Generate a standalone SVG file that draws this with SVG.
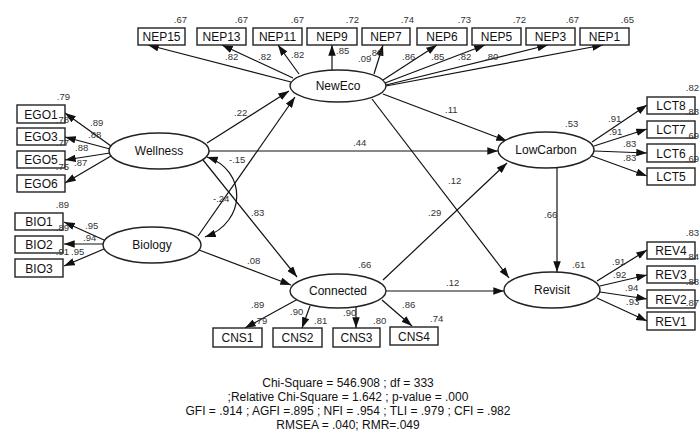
<svg xmlns="http://www.w3.org/2000/svg" width="700" height="435" viewBox="0 0 700 435">
<style>
.box{fill:#fff;stroke:#222;stroke-width:1.4}
.ell{fill:#fff;stroke:#222;stroke-width:1.4}
.lbl{font-family:"Liberation Sans",Arial,sans-serif;font-size:12px;fill:#111;text-anchor:middle}
.num{font-family:"Liberation Sans",Arial,sans-serif;font-size:9.5px;fill:#333}
.e{text-anchor:end}
.ln{stroke:#111;stroke-width:1.2;fill:none;marker-end:url(#ah)}
.fit{font-family:"Liberation Sans",Arial,sans-serif;font-size:12px;fill:#111;text-anchor:middle}
</style>
<defs>
<marker id="ah" viewBox="0 0 10 7" refX="10" refY="3.5" markerWidth="11" markerHeight="7.5" markerUnits="userSpaceOnUse" orient="auto-start-reverse">
<path d="M0,0 L10,3.5 L0,7 z" fill="#111"/>
</marker>
</defs>
<rect width="700" height="435" fill="#fff"/>

<g id="connectors">
<path class="ln" d="M291,82 L148,45"/>
<path class="ln" d="M293,78 L222,45"/>
<path class="ln" d="M299,74 L278,45"/>
<path class="ln" d="M332,70 L332,45"/>
<path class="ln" d="M374,74 L383,45"/>
<path class="ln" d="M383,80 L437,45"/>
<path class="ln" d="M385,83 L485,45"/>
<path class="ln" d="M386,85 L548,45"/>
<path class="ln" d="M386,86 L603,45"/>
<path class="ln" d="M111,146 L65,113"/>
<path class="ln" d="M110,149 L65,137"/>
<path class="ln" d="M110,153 L65,160"/>
<path class="ln" d="M111,156 L65,183"/>
<path class="ln" d="M104,240 L64,222"/>
<path class="ln" d="M103,244 L64,244"/>
<path class="ln" d="M104,249 L64,266"/>
<path class="ln" d="M207,143 L289,91"/>
<path class="ln" d="M198,236 L295,97"/>
<path class="ln" d="M203,160 L297,277"/>
<path class="ln" d="M209,151 L498,151"/>
<path class="ln" d="M199,250 L291,285"/>
<path class="ln" d="M383,94 L507,141"/>
<path class="ln" d="M372,99 L509,278"/>
<path class="ln" d="M383,280 L507,163"/>
<path class="ln" d="M386,291 L504,291"/>
<path class="ln" d="M557,168 L557,272"/>
<path class="ln" style="marker-start:url(#ah)" d="M207,157 C247,170 247,222 205,237"/>
<path class="ln" d="M592,142 L647,105"/>
<path class="ln" d="M594,146 L647,129"/>
<path class="ln" d="M594,151 L647,153"/>
<path class="ln" d="M592,156 L647,176"/>
<path class="ln" d="M597,281 L647,250"/>
<path class="ln" d="M600,286 L647,275"/>
<path class="ln" d="M600,292 L647,299"/>
<path class="ln" d="M597,298 L647,321"/>
<path class="ln" d="M298,299 L245,328"/>
<path class="ln" d="M310,306 L302,328"/>
<path class="ln" d="M356,307 L356,328"/>
<path class="ln" d="M382,300 L412,326"/>
</g>

<g id="NEP15"><rect class="box" x="138" y="28" width="47" height="17"/><text class="lbl" x="161.5" y="41">NEP15</text><text class="num e" x="187" y="23">.67</text></g>
<g id="NEP13"><rect class="box" x="197" y="28" width="49" height="17"/><text class="lbl" x="221.5" y="41">NEP13</text><text class="num e" x="248" y="23">.67</text></g>
<g id="NEP11"><rect class="box" x="253" y="28" width="49" height="17"/><text class="lbl" x="277.5" y="41">NEP11</text><text class="num e" x="304" y="23">.67</text></g>
<g id="NEP9"><rect class="box" x="307" y="28" width="50" height="17"/><text class="lbl" x="332" y="41">NEP9</text><text class="num e" x="359" y="23">.72</text></g>
<g id="NEP7"><rect class="box" x="362" y="28" width="48" height="17"/><text class="lbl" x="386" y="41">NEP7</text><text class="num e" x="414" y="23">.74</text></g>
<g id="NEP6"><rect class="box" x="417" y="28" width="50" height="17"/><text class="lbl" x="442" y="41">NEP6</text><text class="num e" x="471" y="23">.73</text></g>
<g id="NEP5"><rect class="box" x="472" y="28" width="49" height="17"/><text class="lbl" x="496.5" y="41">NEP5</text><text class="num e" x="526" y="23">.72</text></g>
<g id="NEP3"><rect class="box" x="526" y="28" width="49" height="17"/><text class="lbl" x="550.5" y="41">NEP3</text><text class="num e" x="579" y="23">.67</text></g>
<g id="NEP1"><rect class="box" x="580" y="28" width="49" height="17"/><text class="lbl" x="604.5" y="41">NEP1</text><text class="num e" x="634" y="23">.65</text></g>

<g id="EGO1"><rect class="box" x="17" y="105" width="48" height="18"/><text class="lbl" x="41" y="118.5">EGO1</text><text class="num e" x="70" y="100">.79</text></g>
<g id="EGO3"><rect class="box" x="17" y="128" width="48" height="17"/><text class="lbl" x="41" y="141">EGO3</text><text class="num e" x="69" y="123">.78</text></g>
<g id="EGO5"><rect class="box" x="17" y="151" width="48" height="17"/><text class="lbl" x="41" y="164">EGO5</text><text class="num e" x="69" y="146">.77</text></g>
<g id="EGO6"><rect class="box" x="17" y="175" width="48" height="17"/><text class="lbl" x="41" y="188">EGO6</text><text class="num e" x="69" y="170">.75</text></g>

<g id="BIO1"><rect class="box" x="15" y="213" width="48" height="17"/><text class="lbl" x="39" y="226">BIO1</text><text class="num e" x="69" y="208">.89</text></g>
<g id="BIO2"><rect class="box" x="15" y="236" width="48" height="17"/><text class="lbl" x="39" y="249">BIO2</text><text class="num e" x="69" y="231">.89</text></g>
<g id="BIO3"><rect class="box" x="15" y="259" width="48" height="18"/><text class="lbl" x="39" y="272.5">BIO3</text><text class="num e" x="69" y="255">.91</text></g>

<g id="LCT8"><rect class="box" x="647" y="97" width="48" height="17"/><text class="lbl" x="671" y="110">LCT8</text><text class="num e" x="699" y="91">.82</text></g>
<g id="LCT7"><rect class="box" x="647" y="121" width="48" height="17"/><text class="lbl" x="671" y="134">LCT7</text><text class="num e" x="699" y="115">.83</text></g>
<g id="LCT6"><rect class="box" x="647" y="144" width="48" height="18"/><text class="lbl" x="671" y="157.5">LCT6</text><text class="num e" x="699" y="139">.69</text></g>
<g id="LCT5"><rect class="box" x="647" y="168" width="48" height="17"/><text class="lbl" x="671" y="181">LCT5</text><text class="num e" x="699" y="162">.69</text></g>

<g id="REV4"><rect class="box" x="647" y="242" width="48" height="17"/><text class="lbl" x="671" y="255">REV4</text><text class="num e" x="699" y="236">.83</text></g>
<g id="REV3"><rect class="box" x="647" y="266" width="48" height="17"/><text class="lbl" x="671" y="279">REV3</text><text class="num e" x="699" y="260">.84</text></g>
<g id="REV2"><rect class="box" x="647" y="290" width="48" height="18"/><text class="lbl" x="671" y="303.5">REV2</text><text class="num e" x="699" y="285">.88</text></g>
<g id="REV1"><rect class="box" x="647" y="312" width="48" height="18"/><text class="lbl" x="671" y="325.5">REV1</text><text class="num e" x="699" y="306">.87</text></g>

<g id="CNS1"><rect class="box" x="213" y="328" width="49" height="19"/><text class="lbl" x="237.5" y="342">CNS1</text><text class="num" x="254" y="324">.79</text></g>
<g id="CNS2"><rect class="box" x="273" y="328" width="49" height="19"/><text class="lbl" x="297.5" y="342">CNS2</text><text class="num" x="314" y="324">.81</text></g>
<g id="CNS3"><rect class="box" x="333" y="328" width="47" height="19"/><text class="lbl" x="356.5" y="342">CNS3</text><text class="num" x="373" y="324">.80</text></g>
<g id="CNS4"><rect class="box" x="390" y="327" width="48" height="18"/><text class="lbl" x="414" y="340.5">CNS4</text><text class="num" x="430" y="322">.74</text></g>

<g id="NewEco"><ellipse class="ell" cx="338" cy="86" rx="48" ry="16"/><text class="lbl" x="338" y="90">NewEco</text></g>
<g id="Wellness"><ellipse class="ell" cx="159" cy="151" rx="50" ry="18"/><text class="lbl" x="159" y="155">Wellness</text></g>
<g id="Biology"><ellipse class="ell" cx="152" cy="245" rx="49" ry="18"/><text class="lbl" x="152" y="249">Biology</text></g>
<g id="Connected"><ellipse class="ell" cx="338" cy="291" rx="48" ry="17"/><text class="lbl" x="338" y="295">Connected</text><text class="num" x="358" y="268">.66</text></g>
<g id="LowCarbon"><ellipse class="ell" cx="546" cy="150" rx="48" ry="18"/><text class="lbl" x="546" y="154">LowCarbon</text><text class="num" x="565" y="127">.53</text></g>
<g id="Revisit"><ellipse class="ell" cx="552" cy="290" rx="48" ry="18"/><text class="lbl" x="552" y="294">Revisit</text><text class="num" x="572" y="268">.61</text></g>

<g id="coefficients">
<text class="num" x="225" y="60">.82</text>
<text class="num" x="258" y="60">.82</text>
<text class="num" x="291" y="58">.82</text>
<text class="num" x="336" y="54">.85</text>
<text class="num" x="358" y="62">.09</text>
<text class="num" x="369" y="56">.86</text>
<text class="num" x="402" y="60">.86</text>
<text class="num" x="431" y="60">.85</text>
<text class="num" x="458" y="60">.82</text>
<text class="num" x="485" y="60">.80</text>
<text class="num" x="90" y="126">.89</text>
<text class="num" x="88" y="138">.88</text>
<text class="num" x="75" y="151">.88</text>
<text class="num" x="74" y="166">.87</text>
<text class="num" x="85" y="229">.95</text>
<text class="num" x="83" y="241">.94</text>
<text class="num" x="71" y="255">.95</text>
<text class="num" x="234" y="116">.22</text>
<text class="num" x="229" y="163">-.15</text>
<text class="num" x="213" y="202">-.24</text>
<text class="num" x="251" y="216">.83</text>
<text class="num" x="353" y="146">.44</text>
<text class="num" x="247" y="264">.08</text>
<text class="num" x="445" y="113">.11</text>
<text class="num" x="448" y="184">.12</text>
<text class="num" x="428" y="216">.29</text>
<text class="num" x="446" y="286">.12</text>
<text class="num" x="544" y="218">.66</text>
<text class="num" x="608" y="122">.91</text>
<text class="num" x="609" y="135">.91</text>
<text class="num" x="623" y="147">.83</text>
<text class="num" x="623" y="161">.83</text>
<text class="num" x="612" y="265">.91</text>
<text class="num" x="613" y="278">.92</text>
<text class="num" x="625" y="291">.94</text>
<text class="num" x="626" y="305">.93</text>
<text class="num" x="251" y="308">.89</text>
<text class="num" x="290" y="315">.90</text>
<text class="num" x="343" y="316">.90</text>
<text class="num" x="402" y="308">.86</text>
</g>

<g id="fit">
<text class="fit" x="348" y="387">Chi-Square = 546.908 ; df = 333</text>
<text class="fit" x="348" y="401">;Relative Chi-Square = 1.642 ; p-value = .000</text>
<text class="fit" x="348" y="415">GFI = .914 ; AGFI =.895 ; NFI = .954 ; TLI = .979 ; CFI = .982</text>
<text class="fit" x="348" y="429">RMSEA = .040; RMR=.049</text>
</g>
</svg>
